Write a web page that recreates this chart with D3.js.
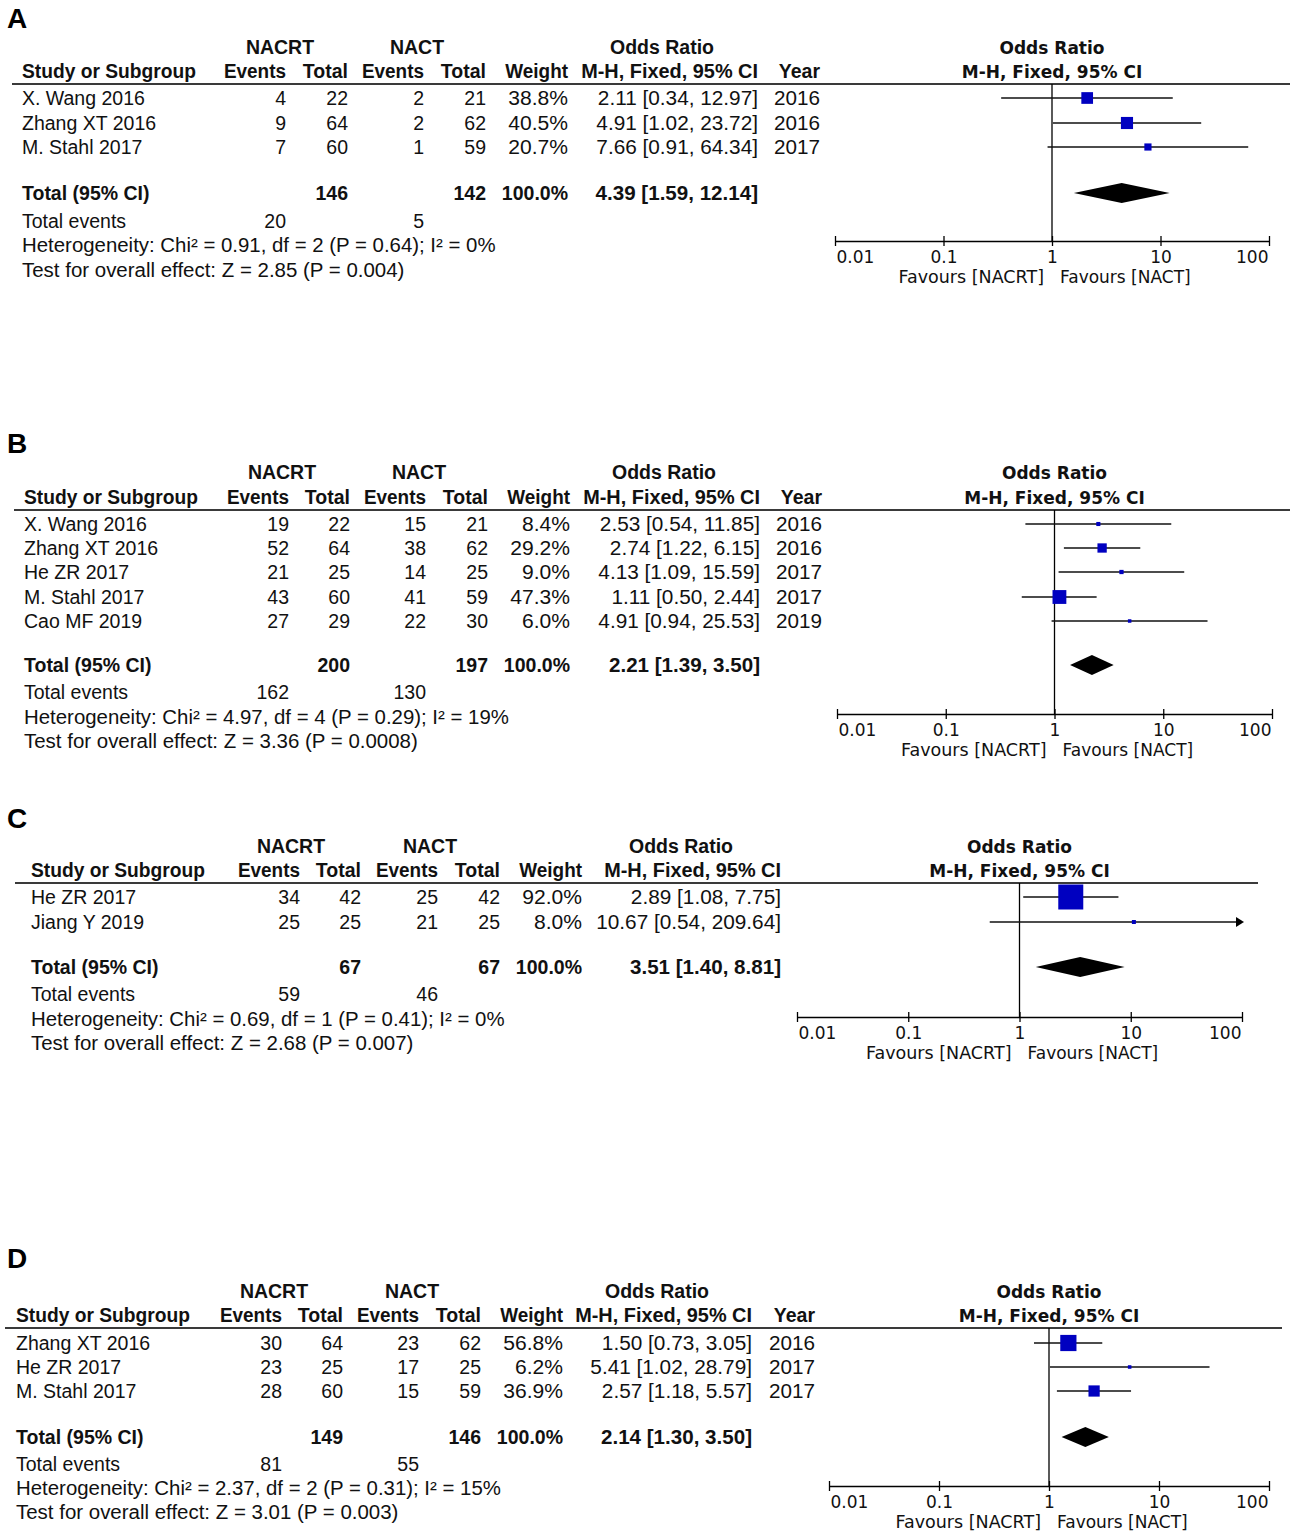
<!DOCTYPE html>
<html><head><meta charset="utf-8">
<script src="https://cdn.jsdelivr.net/npm/d3@7"></script>
<style>body{margin:0;background:#fff} svg{display:block}</style>
</head><body><svg id="c" width="1294" height="1532"></svg>
<script>
const panelLabels = ["A","B","C","D"];
const studies = [
  ["X. Wang 2016","Zhang XT 2016","M. Stahl 2017"],
  ["X. Wang 2016","Zhang XT 2016","He ZR 2017","M. Stahl 2017","Cao MF 2019"],
  ["He ZR 2017","Jiang Y 2019"],
  ["Zhang XT 2016","He ZR 2017","M. Stahl 2017"]
];
const nacrtEvents = [[4,9,7],[19,52,21,43,27],[34,25],[30,23,28]];
const nacrtTotal  = [[22,64,60],[22,64,25,60,29],[42,25],[64,25,60]];
const nactEvents  = [[2,2,1],[15,38,14,41,22],[25,21],[23,17,15]];
const nactTotal   = [[21,62,59],[21,62,25,59,30],[42,25],[62,25,59]];
const weights     = [[38.8,40.5,20.7],[8.4,29.2,9.0,47.3,6.0],[92.0,8.0],[56.8,6.2,36.9]];
const oddsRatio   = [[2.11,4.91,7.66],[2.53,2.74,4.13,1.11,4.91],[2.89,10.67],[1.50,5.41,2.57]];
const ciLower     = [[0.34,1.02,0.91],[0.54,1.22,1.09,0.50,0.94],[1.08,0.54],[0.73,1.02,1.18]];
const ciUpper     = [[12.97,23.72,64.34],[11.85,6.15,15.59,2.44,25.53],[7.75,209.64],[3.05,28.79,5.57]];
const years       = [[2016,2016,2017],[2016,2016,2017,2017,2019],null,[2016,2017,2017]];
const totalNacrt  = [146,200,67,149];
const totalNact   = [142,197,67,146];
const totalWeight = [100,100,100,100];
const totalOR     = [4.39,2.21,3.51,2.14];
const totalLower  = [1.59,1.39,1.40,1.30];
const totalUpper  = [12.14,3.50,8.81,3.50];
const totalEventsNacrt = [20,162,59,81];
const totalEventsNact  = [5,130,46,55];
const chiSq   = ["0.91","4.97","0.69","2.37"];
const dfVals  = [2,4,1,2];
const hetP    = ["0.64","0.29","0.41","0.31"];
const iSq     = [0,19,0,15];
const zValue  = ["2.85","3.36","2.68","3.01"];
const overallP = ["0.004","0.0008","0.007","0.003"];
const tickValues = [0.01,0.1,1,10,100];
const tickLabels = ["0.01","0.1","1","10","100"];
const favourLeft = "Favours [NACRT]";
const favourRight = "Favours [NACT]";

// layout (positions only)
const layout = [
  {labelY:28, h1:54, h2:78, line:84, rows:[105,130,154], total:200, te:228, het:252, test:277,
   c:{study:22, ev1:286, tot1:348, ev2:424, tot2:486, w:568, ci:758, yr:820, nacrt:280, nact:417, or:662},
   px0:835, px1:1269, axisY:241, lx0:12, lx1:1290},
  {labelY:453, h1:479, h2:504, line:510, rows:[531,555,579,604,628], total:672, te:699, het:724, test:748,
   c:{study:24, ev1:289, tot1:350, ev2:426, tot2:488, w:570, ci:760, yr:822, nacrt:282, nact:419, or:664},
   px0:837, px1:1272, axisY:714, lx0:14, lx1:1290},
  {labelY:828, h1:853, h2:877, line:883, rows:[904,929], total:974, te:1001, het:1026, test:1050,
   c:{study:31, ev1:300, tot1:361, ev2:438, tot2:500, w:582, ci:781, yr:null, nacrt:291, nact:430, or:681},
   px0:797, px1:1242, axisY:1017, lx0:15, lx1:1258},
  {labelY:1268, h1:1298, h2:1322, line:1328, rows:[1350,1374,1398], total:1444, te:1471, het:1495, test:1519,
   c:{study:16, ev1:282, tot1:343, ev2:419, tot2:481, w:563, ci:752, yr:815, nacrt:274, nact:412, or:657},
   px0:829, px1:1269, axisY:1486, lx0:5, lx1:1282}
];

const svg = d3.select("#c");
const TF = "'Liberation Sans', Arial, sans-serif";
const PF = "'DejaVu Sans', Verdana, sans-serif";
const TS = 19.5;
const fmt2 = d3.format(".2f"), fmt1 = d3.format(".1f");
const sizeScale = d3.scaleLinear().domain([0,100]).range([2,27]);
const ciText = (o,l,h)=>`${fmt2(o)} [${fmt2(l)}, ${fmt2(h)}]`;

panelLabels.forEach((lab,p)=>{
  const L = layout[p], C = L.c;
  const g = svg.append("g");
  const txt = (x,y,s,anchor,bold,fam,size,stretch)=> {
    const t = g.append("text")
      .attr("x",x).attr("y",y).attr("text-anchor",anchor||"start")
      .attr("font-weight",bold?"bold":"normal").attr("font-family",fam||TF)
      .attr("font-size",size||TS).attr("fill","#111").text(s);
    if (stretch) {
      const w = t.node().getComputedTextLength();
      t.attr("textLength", w*stretch).attr("lengthAdjust","spacingAndGlyphs");
    }
    return t;
  };

  g.append("text").attr("x",7).attr("y",L.labelY).text(lab)
    .attr("font-family",TF).attr("font-weight","bold").attr("font-size",28).attr("fill","#000");

  // table header
  txt(C.nacrt,L.h1,"NACRT","middle",true);
  txt(C.nact,L.h1,"NACT","middle",true);
  txt(C.or,L.h1,"Odds Ratio","middle",true);
  txt(C.study,L.h2,"Study or Subgroup","start",true,null,null,0.985);
  txt(C.ev1,L.h2,"Events","end",true,null,null,0.97);
  txt(C.tot1,L.h2,"Total","end",true);
  txt(C.ev2,L.h2,"Events","end",true,null,null,0.97);
  txt(C.tot2,L.h2,"Total","end",true);
  txt(C.w,L.h2,"Weight","end",true,null,null,0.97);
  txt(C.ci,L.h2,"M-H, Fixed, 95% CI","end",true,null,null,1.02);
  if (C.yr) txt(C.yr,L.h2,"Year","end",true);

  // plot scale
  const x = d3.scaleLog().domain([0.01,100]).range([L.px0,L.px1]);
  const mid = (L.px0+L.px1)/2;
  txt(mid,L.h1,"Odds Ratio","middle",true,PF,17);
  txt(mid,L.h2,"M-H, Fixed, 95% CI","middle",true,PF,17);

  g.append("line").attr("x1",L.lx0).attr("x2",L.lx1).attr("y1",L.line).attr("y2",L.line)
    .attr("stroke","#3a3a3a").attr("stroke-width",2.2);

  // study rows
  studies[p].forEach((s,i)=>{
    const y = L.rows[i];
    txt(C.study,y,s);
    txt(C.ev1,y,nacrtEvents[p][i],"end");
    txt(C.tot1,y,nacrtTotal[p][i],"end");
    txt(C.ev2,y,nactEvents[p][i],"end");
    txt(C.tot2,y,nactTotal[p][i],"end");
    txt(C.w,y,fmt1(weights[p][i])+"%","end",false,null,null,1.08);
    txt(C.ci,y,ciText(oddsRatio[p][i],ciLower[p][i],ciUpper[p][i]),"end",false,null,null,1.065);
    if (C.yr) txt(C.yr,y,years[p][i],"end",false,null,null,1.06);
  });
  // total rows
  txt(C.study,L.total,"Total (95% CI)","start",true);
  txt(C.tot1,L.total,totalNacrt[p],"end",true);
  txt(C.tot2,L.total,totalNact[p],"end",true);
  txt(C.w,L.total,fmt1(totalWeight[p])+"%","end",true);
  txt(C.ci,L.total,ciText(totalOR[p],totalLower[p],totalUpper[p]),"end",true,null,null,1.055);
  txt(C.study,L.te,"Total events");
  txt(C.ev1,L.te,totalEventsNacrt[p],"end");
  txt(C.ev2,L.te,totalEventsNact[p],"end");
  txt(C.study,L.het,`Heterogeneity: Chi\u00B2 = ${chiSq[p]}, df = ${dfVals[p]} (P = ${hetP[p]}); I\u00B2 = ${iSq[p]}%`,"start",false,null,null,1.046);
  txt(C.study,L.test,`Test for overall effect: Z = ${zValue[p]} (P = ${overallP[p]})`,"start",false,null,null,1.049);

  // reference line at OR = 1
  g.append("line").attr("x1",x(1)).attr("x2",x(1)).attr("y1",L.line).attr("y2",L.axisY)
    .attr("stroke","#000").attr("stroke-width",1.3);

  // CIs and squares
  studies[p].forEach((s,i)=>{
    const y = L.rows[i]-7;
    const lo = Math.max(ciLower[p][i],0.01), hi = Math.min(ciUpper[p][i],100);
    g.append("line").attr("x1",x(lo)).attr("x2",x(hi)).attr("y1",y).attr("y2",y)
      .attr("stroke","#111").attr("stroke-width",1.4);
    if (ciUpper[p][i] > 100) {
      const xe = x(100)+2;
      g.append("path").attr("d",`M${xe-8},${y-5}L${xe},${y}L${xe-8},${y+5}Z`).attr("fill","#000");
    }
    const sz = sizeScale(weights[p][i]);
    g.append("rect").attr("x",x(oddsRatio[p][i])-sz/2).attr("y",y-sz/2)
      .attr("width",sz).attr("height",sz).attr("fill","#0000c0");
  });
  // diamond
  const yd = L.total-7;
  g.append("path").attr("d",`M${x(totalLower[p])},${yd}L${x(totalOR[p])},${yd-10}L${x(totalUpper[p])},${yd}L${x(totalOR[p])},${yd+10}Z`)
    .attr("fill","#000");

  // axis
  const ax = g.append("g").attr("transform",`translate(0,${L.axisY})`)
    .call(d3.axisBottom(x).tickValues(tickValues).tickFormat((d,i)=>tickLabels[i]).tickSize(5).tickSizeOuter(0));
  ax.select(".domain").attr("stroke","#000").attr("stroke-width",1.3);
  ax.selectAll(".tick line").attr("y1",-5).attr("y2",5).attr("stroke","#000").attr("stroke-width",1.3);
  ax.selectAll(".tick text").attr("y",22).attr("dy",null)
    .attr("font-family",PF).attr("font-size",17).attr("fill","#111")
    .attr("text-anchor",(d,i)=> i===0 ? "start" : (i===tickValues.length-1 ? "end" : "middle"))
    .attr("dx",(d,i)=> i===0 ? 1 : (i===tickValues.length-1 ? -1 : 0));
  txt(x(1)-8,L.axisY+42,favourLeft,"end",false,PF,17,1.03);
  txt(x(1)+8,L.axisY+42,favourRight,"start",false,PF,17);
});
</script>
</body></html>
